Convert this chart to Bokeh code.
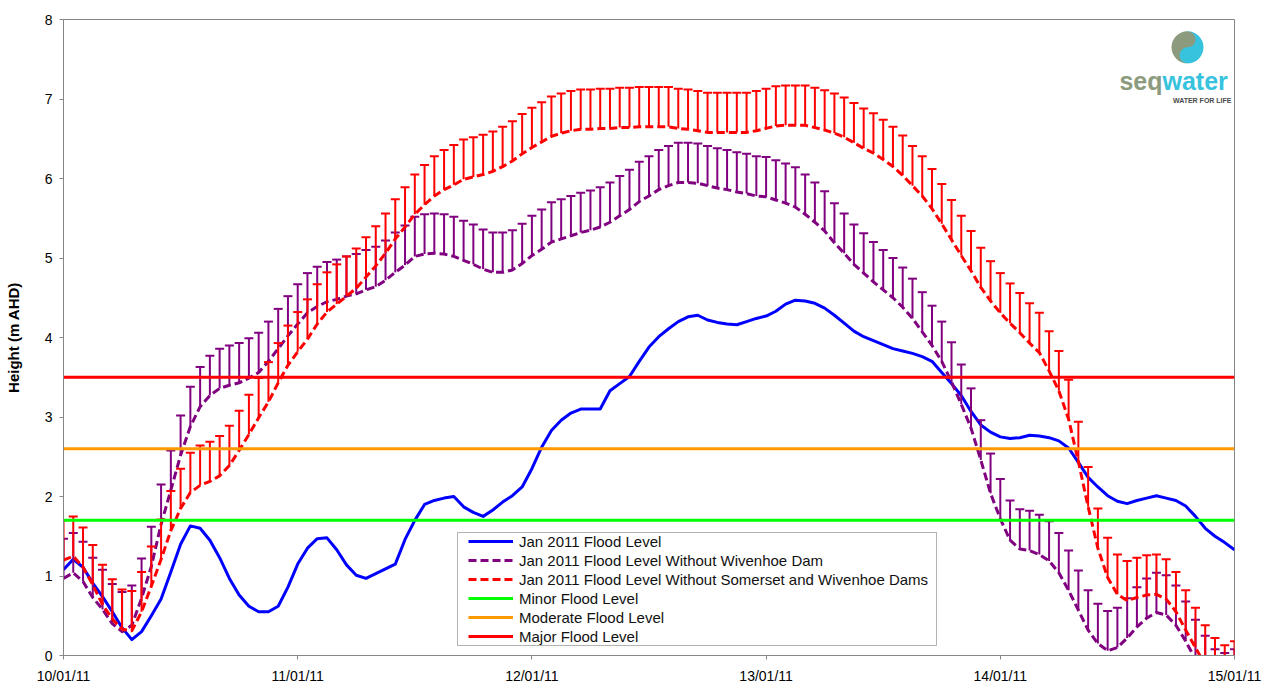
from bokeh.plotting import figure
from bokeh.models import Range1d, FixedTicker, Legend, LegendItem, Label, BoxAnnotation
from bokeh.embed import file_html
from bokeh.resources import INLINE

# ---------------- data ----------------
hours = list(range(121))          # hourly steps from 10/01/11 00:00 to 15/01/11 00:00
tick_hours = [0, 24, 48, 72, 96, 120]
tick_labels = ["10/01/11", "11/01/11", "12/01/11", "13/01/11", "14/01/11", "15/01/11"]
y_ticks = [0, 1, 2, 3, 4, 5, 6, 7, 8]

actual_level = [
    1.08, 1.21, 1.11, 0.91, 0.74, 0.55, 0.35, 0.20, 0.30, 0.50,
    0.71, 1.05, 1.40, 1.63, 1.60, 1.45, 1.23, 0.97, 0.76, 0.62,
    0.55, 0.55, 0.62, 0.86, 1.15, 1.35, 1.47, 1.48, 1.33, 1.14,
    1.01, 0.97, 1.03, 1.09, 1.15, 1.46, 1.70, 1.90, 1.95, 1.98,
    2.00, 1.87, 1.80, 1.75, 1.83, 1.93, 2.01, 2.12, 2.35, 2.62,
    2.83, 2.96, 3.05, 3.10, 3.10, 3.10, 3.33, 3.42, 3.51, 3.70,
    3.88, 4.01, 4.11, 4.20, 4.26, 4.28, 4.22, 4.19, 4.17, 4.16,
    4.20, 4.24, 4.27, 4.33, 4.42, 4.47, 4.46, 4.43, 4.37, 4.28,
    4.18, 4.08, 4.01, 3.96, 3.91, 3.86, 3.83, 3.80, 3.76, 3.70,
    3.56, 3.42, 3.27, 3.07, 2.90, 2.81, 2.75, 2.73, 2.74, 2.77,
    2.76, 2.74, 2.70, 2.61, 2.43, 2.24, 2.12, 2.01, 1.94, 1.91,
    1.95, 1.98, 2.01, 1.98, 1.95, 1.88, 1.75, 1.60, 1.50, 1.42,
    1.33,
]

without_wivenhoe = [
    0.97, 1.04, 0.93, 0.73, 0.58, 0.40, 0.30, 0.38, 0.72, 1.12,
    1.65, 2.08, 2.52, 2.88, 3.13, 3.27, 3.36, 3.40, 3.43, 3.49,
    3.56, 3.70, 3.86, 4.02, 4.17, 4.31, 4.39, 4.45, 4.48, 4.52,
    4.55, 4.60, 4.64, 4.72, 4.82, 4.91, 5.02, 5.05, 5.06, 5.05,
    5.02, 4.97, 4.92, 4.86, 4.82, 4.82, 4.85, 4.93, 5.03, 5.11,
    5.20, 5.24, 5.28, 5.32, 5.35, 5.39, 5.45, 5.53, 5.61, 5.71,
    5.78, 5.86, 5.91, 5.95, 5.95, 5.94, 5.91, 5.88, 5.86, 5.83,
    5.81, 5.78, 5.77, 5.73, 5.69, 5.64, 5.55, 5.45, 5.34, 5.19,
    5.06, 4.92, 4.81, 4.70, 4.60, 4.50, 4.38, 4.24, 4.07, 3.90,
    3.70, 3.44, 3.16, 2.86, 2.46, 2.04, 1.72, 1.45, 1.34, 1.32,
    1.27, 1.19, 1.04, 0.82, 0.57, 0.32, 0.15, 0.06, 0.10, 0.22,
    0.36, 0.47, 0.54, 0.51, 0.38, 0.18, -0.05, -0.25, -0.42, -0.47,
    -0.42,
]

without_both = [
    1.20, 1.25, 1.11, 0.89, 0.64, 0.46, 0.33, 0.31, 0.55, 0.87,
    1.21, 1.57, 1.85, 2.05, 2.14, 2.19, 2.26, 2.39, 2.58, 2.78,
    2.99, 3.19, 3.43, 3.65, 3.82, 3.98, 4.17, 4.32, 4.42, 4.52,
    4.62, 4.76, 4.90, 5.06, 5.24, 5.39, 5.55, 5.67, 5.78, 5.86,
    5.92, 5.99, 6.02, 6.05, 6.09, 6.15, 6.22, 6.31, 6.39, 6.46,
    6.53, 6.57, 6.60, 6.62, 6.62, 6.63, 6.63, 6.64, 6.64, 6.65,
    6.65, 6.65, 6.65, 6.63, 6.62, 6.60, 6.58, 6.58, 6.58, 6.58,
    6.58, 6.60, 6.63, 6.66, 6.67, 6.67, 6.67, 6.64, 6.61, 6.57,
    6.52, 6.45, 6.38, 6.32, 6.24, 6.15, 6.04, 5.91, 5.78, 5.62,
    5.43, 5.23, 5.03, 4.84, 4.63, 4.46, 4.31, 4.18, 4.06, 3.93,
    3.81, 3.58, 3.33, 2.97, 2.44, 1.87, 1.35, 0.98, 0.77, 0.69,
    0.73, 0.76, 0.77, 0.71, 0.55, 0.32, 0.10, -0.12, -0.28, -0.37,
    -0.32,
]

error_margin = 0.5          # upper error bar (m)
minor_level = 1.7
moderate_level = 2.6
major_level = 3.5

# ---------------- figure ----------------
FONT = "Liberation Sans"
p = figure(width=1262, height=686,
           x_range=Range1d(0, 120), y_range=Range1d(0, 8),
           output_backend="svg", toolbar_location=None,
           min_border_left=63, min_border_right=28,
           min_border_top=19, min_border_bottom=28,
           background_fill_color="white", border_fill_color="white")
p.xgrid.visible = False
p.ygrid.visible = False
p.outline_line_color = "#868686"
p.outline_line_width = 1

for ax in (p.xaxis[0], p.yaxis[0]):
    ax.axis_line_color = "#868686"
    ax.major_tick_line_color = "#868686"
    ax.major_tick_in = 0
    ax.major_tick_out = 4
    ax.minor_tick_line_color = None
    ax.major_label_text_font = FONT
    ax.major_label_text_font_size = "14px"
    ax.major_label_text_color = "black"

p.xaxis.ticker = FixedTicker(ticks=tick_hours)
p.xaxis.major_label_overrides = {h: l for h, l in zip(tick_hours, tick_labels)}
p.xaxis.major_label_standoff = 8
p.yaxis.ticker = FixedTicker(ticks=y_ticks)
p.yaxis.major_label_standoff = 7
p.yaxis.axis_label = "Height (m AHD)"
p.yaxis.axis_label_text_font = FONT
p.yaxis.axis_label_text_font_style = "bold"
p.yaxis.axis_label_text_font_size = "15px"
p.yaxis.axis_label_text_color = "black"
p.yaxis.axis_label_standoff = 20

# ---------------- series ----------------
PURPLE = "#800080"
RED = "#FF0000"
r_blue = p.line(hours, actual_level, line_color="#0000FF", line_width=3, line_join="round")

purple_top = [v + error_margin for v in without_wivenhoe]
p.segment(hours, without_wivenhoe, hours, purple_top, line_color=PURPLE, line_width=2)
p.scatter(hours, purple_top, marker="dash", size=9, line_color=PURPLE, line_width=2)
r_purple = p.line(hours, without_wivenhoe, line_color=PURPLE, line_width=3,
                  line_dash="8 4", line_join="round")

red_top = [v + error_margin for v in without_both]
p.segment(hours, without_both, hours, red_top, line_color=RED, line_width=2)
p.scatter(hours, red_top, marker="dash", size=9, line_color=RED, line_width=2)
r_red = p.line(hours, without_both, line_color=RED, line_width=3,
               line_dash="8 4", line_join="round")

r_minor = p.line(hours, [minor_level] * len(hours), line_color="#00FF00", line_width=3)
r_mod = p.line(hours, [moderate_level] * len(hours), line_color="#FF9900", line_width=3)
r_major = p.line(hours, [major_level] * len(hours), line_color="#FF0000", line_width=3)

# ---------------- legend ----------------
legend = Legend(items=[
    LegendItem(label="Jan 2011 Flood Level", renderers=[r_blue]),
    LegendItem(label="Jan 2011 Flood Level Without Wivenhoe Dam", renderers=[r_purple]),
    LegendItem(label="Jan 2011 Flood Level Without Somerset and Wivenhoe Dams", renderers=[r_red]),
    LegendItem(label="Minor Flood Level", renderers=[r_minor]),
    LegendItem(label="Moderate Flood Level", renderers=[r_mod]),
    LegendItem(label="Major Flood Level", renderers=[r_major]),
], location=(405, 10), padding=0, margin=0, spacing=1,
    label_height=18, glyph_height=18, glyph_width=45, label_standoff=6,
    label_text_font=FONT, label_text_font_size="15px", label_text_color="#111111",
    border_line_alpha=0, background_fill_alpha=0)
p.add_layout(legend)
p.add_layout(BoxAnnotation(left=394, right=873, bottom=10, top=123,
                           left_units="screen", right_units="screen",
                           bottom_units="screen", top_units="screen",
                           fill_alpha=0, line_color="black", line_width=1))

# ---------------- logo ----------------
OLIVE = "#8c9b7d"
CYAN = "#37c2de"
px_h = 1171 / 120.0
px_m = 639 / 8.0
cx, cy = (1187 - 63) / px_h, (658 - 47) / px_m
p.wedge([cx], [cy], radius=16, radius_units="screen", start_angle=1.5708, end_angle=4.7124,
        fill_color=OLIVE, line_color=None)
p.wedge([cx], [cy], radius=16, radius_units="screen", start_angle=-1.5708, end_angle=1.5708,
        fill_color=CYAN, line_color=None)
p.circle([cx], [cy + 8 / px_m], radius=8, radius_units="screen", fill_color=OLIVE, line_color=None)
p.circle([cx], [cy - 8 / px_m], radius=8, radius_units="screen", fill_color=CYAN, line_color=None)

p.add_layout(Label(x=1099, y=575, x_units="screen", y_units="screen", text="seq",
                   text_align="right", text_baseline="alphabetic", text_font=FONT,
                   text_font_size="25px", text_font_style="bold", text_color=OLIVE))
p.add_layout(Label(x=1099, y=575, x_units="screen", y_units="screen", text="water",
                   text_align="left", text_baseline="alphabetic", text_font=FONT,
                   text_font_size="25px", text_font_style="bold", text_color=CYAN))
p.add_layout(Label(x=1168, y=555, x_units="screen", y_units="screen", text="WATER FOR LIFE",
                   text_align="right", text_baseline="alphabetic", text_font=FONT,
                   text_font_size="7px", text_font_style="bold", text_color="#4a4a4a"))

open("out.html", "w").write(file_html(p, INLINE))
